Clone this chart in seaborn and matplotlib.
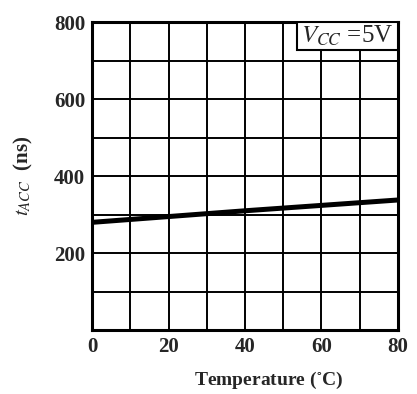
import matplotlib
matplotlib.use("Agg")
import matplotlib.pyplot as plt
from matplotlib.patches import Rectangle
import seaborn as sns
import pandas as pd

# values
temperature = [0, 40, 80]
t_acc = [280, 310, 338]
x_ticks = [0, 20, 40, 60, 80]
y_ticks = [200, 400, 600, 800]

sns.set_style("white")
plt.rcParams["font.family"] = ["Liberation Serif", "DejaVu Serif"]
plt.rcParams["mathtext.fontset"] = "stix"

df = pd.DataFrame({"temp": temperature, "tacc": t_acc})

fig = plt.figure(figsize=(4.17, 3.94), dpi=100)
ax = fig.add_axes([0.221, 0.162, 0.733, 0.782])

# grid every 10 degrees / 100 ns
for gx in range(10, 80, 10):
    ax.axvline(gx, color="black", lw=1.4, zorder=1)
for gy in range(100, 800, 100):
    ax.axhline(gy, color="black", lw=1.4, zorder=1)

sns.lineplot(data=df, x="temp", y="tacc", color="black", lw=3.6, ax=ax, zorder=3)

ax.set_xlim(0, 80)
ax.set_ylim(0, 800)
ax.set_xticks(x_ticks)
ax.set_yticks(y_ticks)
ax.tick_params(length=0, labelsize=15, pad=5)
for lab in ax.get_xticklabels() + ax.get_yticklabels():
    lab.set_fontweight("bold")
for s in ax.spines.values():
    s.set_color("black")
    s.set_linewidth(2.2)

ax.set_xlabel("")
fig.text(0.645, 0.035, "Temperature ($^{\\circ}$C)", fontsize=14, fontweight="bold",
         ha="center", va="center")
ax.set_ylabel("$t_{ACC}$  (ns)", fontsize=15, fontweight="bold", labelpad=14)

# label box in the top-right corner
ax.add_patch(Rectangle((0.67, 0.909), 0.33, 0.091, transform=ax.transAxes,
                       fc="white", ec="black", lw=1.5, zorder=4))
ax.text(0.835, 0.955, "$V_{CC}$ =5V", transform=ax.transAxes, ha="center", va="center",
        fontsize=18, zorder=5)

fig.savefig("out.png", dpi=100)
